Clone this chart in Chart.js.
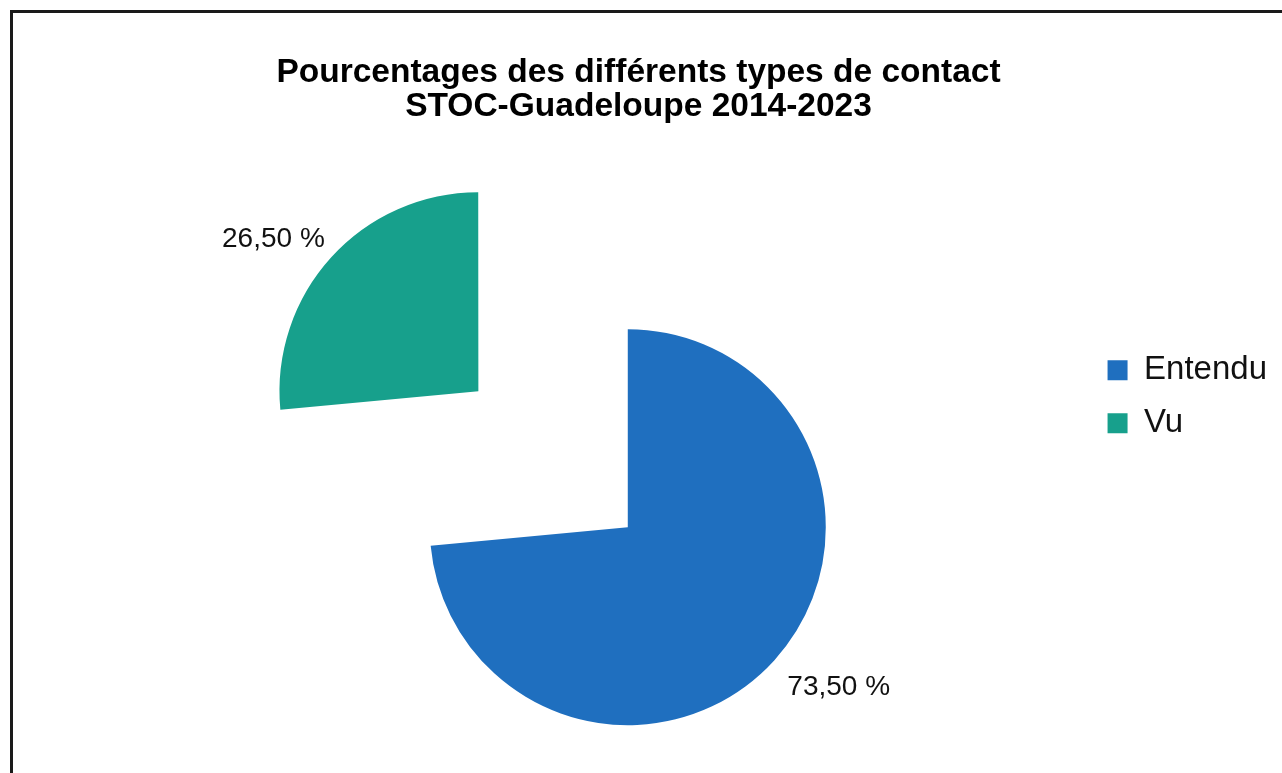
<!DOCTYPE html>
<html>
<head>
<meta charset="utf-8">
<script src="https://cdn.jsdelivr.net/npm/chart.js@4/dist/chart.umd.min.js"></script>
<style>
  html, body { margin: 0; padding: 0; background: #fff; overflow: hidden; }
  .frame { position: absolute; left: 10px; top: 10px; width: 1290px; height: 780px;
           border-top: 3px solid #1a1a1a; border-left: 3px solid #1a1a1a; }
  .chart-container { position: absolute; left: 0; top: 0; width: 1282px; height: 773px; }
</style>
</head>
<body>
<div class="frame"></div>
<div class="chart-container">
  <canvas id="pieChart"></canvas>
</div>
<script>
  const titleLines = ["Pourcentages des différents types de contact", "STOC-Guadeloupe 2014-2023"];
  const categories = ["Entendu", "Vu"];
  const percentages = [73.5, 26.5];
  const sliceColors = ["#1f6fbf", "#17a08c"];
  const sliceOffsets = [0, 808]; // Vu slice pulled out (drawn shift = offset / 4)

  const FONT = "'Liberation Sans', Arial, Helvetica, sans-serif";

  // empty box on the left so the pie sits where it does in the original
  const leftGap = {
    id: "leftGap",
    beforeInit(chart) {
      Chart.layouts.addBox(chart, {
        position: "left",
        weight: 0,
        fullSize: false,
        options: {},
        width: 0,
        height: 0,
        isHorizontal() { return false; },
        update(maxWidth, maxHeight) { this.width = 168; this.height = maxHeight; },
        getPadding() { return { top: 0, left: 0, right: 0, bottom: 0 }; },
        draw() {}
      });
    }
  };

  // percentage labels next to each slice
  const sliceLabels = {
    id: "sliceLabels",
    afterDatasetsDraw(chart) {
      const ctx = chart.ctx;
      const meta = chart.getDatasetMeta(0);
      ctx.save();
      ctx.font = "28px " + FONT;
      ctx.fillStyle = "#111";
      ctx.textAlign = "center";
      ctx.textBaseline = "middle";
      meta.data.forEach((arc, i) => {
        const mid = (arc.startAngle + arc.endAngle) / 2;
        const shift = (arc.options.offset || 0) / 4;
        const cx = arc.x + Math.cos(mid) * shift;
        const cy = arc.y + Math.sin(mid) * shift;
        const lx = cx + Math.cos(mid) * arc.outerRadius * 1.42 + 3;
        const ly = cy + Math.sin(mid) * arc.outerRadius * 1.17 + 4;
        const txt = percentages[i].toFixed(2).replace(".", ",") + " %";
        ctx.fillText(txt, lx, ly);
      });
      ctx.restore();
    }
  };

  const ctx = document.getElementById("pieChart").getContext("2d");
  const pieChart = new Chart(ctx, {
    type: "pie",
    data: {
      labels: categories,
      datasets: [
        {
          data: percentages,
          backgroundColor: sliceColors,
          borderWidth: 0,
          offset: sliceOffsets,
        },
      ],
    },
    options: {
      responsive: true,
      maintainAspectRatio: false,
      animation: false,
      radius: 198,
      cutout: "0%",
      layout: { padding: { left: 0, right: 5, top: 0, bottom: 0 } },
      plugins: {
        title: {
          display: true,
          text: titleLines,
          color: "#000",
          font: { family: FONT, size: 33.5, weight: "bold", lineHeight: 1.02 },
          padding: { top: 56, bottom: 157 },
        },
        legend: {
          position: "right",
          align: "start",
          fullSize: false,
          title: { display: true, text: " ", font: { size: 12 }, padding: { top: 38, bottom: 0 } },
          labels: {
            boxWidth: 20,
            boxHeight: 20,
            padding: 20,
            color: "#111",
            font: { family: FONT, size: 33 },
          },
        },
        tooltip: { enabled: false },
      },
    },
    plugins: [leftGap, sliceLabels],
  });
</script>
</body>
</html>
